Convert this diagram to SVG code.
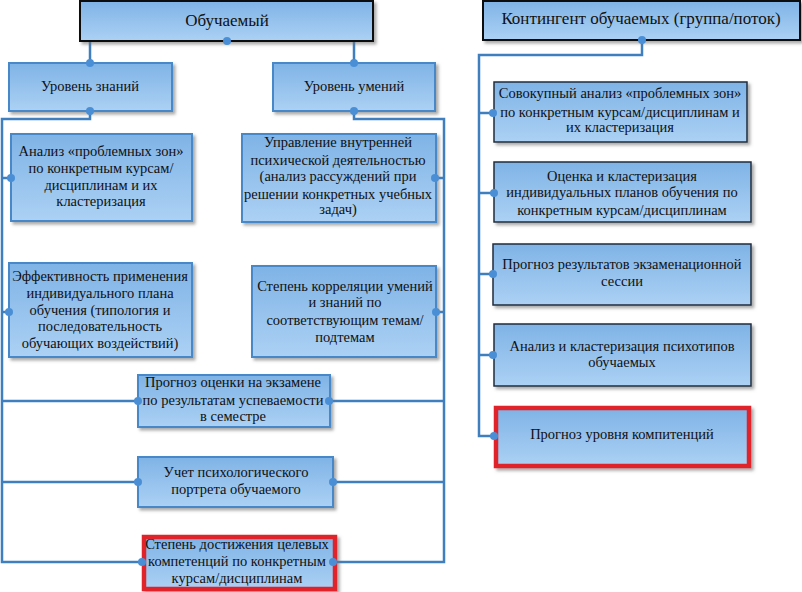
<svg xmlns="http://www.w3.org/2000/svg" width="802" height="592" viewBox="0 0 802 592">
<defs>
<linearGradient id="g" x1="0" y1="0" x2="0" y2="1">
<stop offset="0" stop-color="#7fb3e6"/>
<stop offset="1" stop-color="#acd1f4"/>
</linearGradient>
<filter id="sh" x="-10%" y="-10%" width="125%" height="130%">
<feDropShadow dx="2.5" dy="2.5" stdDeviation="1.5" flood-color="#707070" flood-opacity="0.6"/>
</filter>
</defs>
<style>
.b{fill:url(#g);filter:url(#sh)}
.lb{stroke:#4a88c8;stroke-width:2}
.db{stroke:#1f2d3d;stroke-width:1.5}
.kb{stroke:#111;stroke-width:2}
.rb{stroke:#e0202c;stroke-width:4.5}
text{font-size:14.5px;fill:#111;text-anchor:middle}
.t{font-size:17px}
.c{fill:none;stroke:#3f7fbf;stroke-width:2.5}
.d{fill:#4a8fd6}
</style>
<rect width="802" height="592" fill="#fff"/>
<g id="connectors">
<path class="c" d="M90 41V63M354 41V63"/>
<path class="c" d="M90 111V119H2V562H143M2 178H11M2 312H9M2 401H138M2 482H138"/>
<path class="c" d="M354 111V119H444V562H336M444 178H435M444 312H436M444 401H330M444 482H333"/>
<path class="c" d="M642 40V55H479V436H494M479 113H493M479 193H494M479 274H493M479 355H493"/>
</g>
<g font-family="'Liberation Serif', 'Times New Roman', serif">
<g id="obuchaemyi"><rect class="b kb" x="80" y="1" width="293" height="40"/><text class="t" x="227" y="26">Обучаемый</text></g>
<g id="uroven-znaniy"><rect class="b lb" x="9" y="63" width="163" height="48"/><text x="90" y="91">Уровень знаний</text></g>
<g id="uroven-umeniy"><rect class="b lb" x="273" y="63" width="162" height="48"/><text x="354" y="91">Уровень умений</text></g>
<g id="analiz-zon"><rect class="b lb" x="11" y="134" width="181" height="87"/><text x="101" y="156">Анализ «проблемных зон»</text><text x="101" y="173">по конкретным курсам/</text><text x="101" y="190">дисциплинам и их</text><text x="101" y="206">кластеризация</text></g>
<g id="effektivnost"><rect class="b lb" x="9" y="263" width="183" height="94"/><text x="100" y="281">Эффективность применения</text><text x="100" y="298">индивидуального плана</text><text x="100" y="315">обучения (типология и</text><text x="100" y="331">последовательность</text><text x="100" y="348">обучающих воздействий)</text></g>
<g id="upravlenie"><rect class="b lb" x="242" y="134" width="194" height="88"/><text x="338" y="147">Управление внутренней</text><text x="338" y="165">психической деятельностью</text><text x="338" y="181">(анализ рассуждений при</text><text x="338" y="199">решении конкретных учебных</text><text x="338" y="214">задач)</text></g>
<g id="korrelyatsiya"><rect class="b lb" x="252" y="266" width="184" height="91"/><text x="345" y="291">Степень корреляции умений</text><text x="345" y="307">и знаний по</text><text x="345" y="325">соответствующим темам/</text><text x="345" y="342">подтемам</text></g>
<g id="prognoz-otsenki"><rect class="b lb" x="138" y="375" width="192" height="52"/><text x="233" y="387">Прогноз оценки на экзамене</text><text x="233" y="405">по результатам успеваемости</text><text x="233" y="421">в семестре</text></g>
<g id="uchet"><rect class="b lb" x="138" y="457" width="195" height="50"/><text x="236" y="477">Учет психологического</text><text x="236" y="494">портрета обучаемого</text></g>
<g id="stepen-dostizheniya"><rect class="b rb" x="144" y="537" width="191" height="52"/><text x="237" y="549">Степень достижения целевых</text><text x="237" y="566">компетенций по конкретным</text><text x="237" y="583">курсам/дисциплинам</text></g>
<g id="kontingent"><rect class="b kb" x="483" y="1" width="317" height="39"/><text class="t" x="641" y="24">Контингент обучаемых (группа/поток)</text></g>
<g id="sovokupnyi"><rect class="b db" x="494" y="82" width="253" height="60"/><text x="620" y="98">Совокупный анализ «проблемных зон»</text><text x="620" y="117">по конкретным курсам/дисциплинам и</text><text x="620" y="132">их кластеризация</text></g>
<g id="otsenka"><rect class="b db" x="494" y="162" width="257" height="60"/><text x="622" y="181">Оценка и кластеризация</text><text x="622" y="197">индивидуальных планов обучения по</text><text x="622" y="215">конкретным курсам/дисциплинам</text></g>
<g id="prognoz-sessii"><rect class="b db" x="493" y="244" width="258" height="61"/><text x="622" y="269">Прогноз результатов экзаменационной</text><text x="622" y="286">сессии</text></g>
<g id="psihotipy"><rect class="b db" x="494" y="324" width="257" height="62"/><text x="622" y="351">Анализ и кластеризация психотипов</text><text x="622" y="367">обучаемых</text></g>
<g id="prognoz-kompetentsiy"><rect class="b rb" x="496" y="408" width="253" height="58"/><text x="622" y="439">Прогноз уровня компитенций</text></g>
</g>
<g id="dots">
<circle class="d" cx="227" cy="41" r="4"/><circle class="d" cx="90" cy="63" r="4"/><circle class="d" cx="354" cy="63" r="4"/>
<circle class="d" cx="90" cy="111" r="4"/><circle class="d" cx="354" cy="111" r="4"/>
<circle class="d" cx="11" cy="178" r="4"/><circle class="d" cx="9" cy="312" r="4"/><circle class="d" cx="435" cy="178" r="4"/><circle class="d" cx="436" cy="312" r="4"/>
<circle class="d" cx="138" cy="401" r="4"/><circle class="d" cx="329" cy="401" r="4"/><circle class="d" cx="138" cy="482" r="4"/><circle class="d" cx="333" cy="482" r="4"/>
<circle class="d" cx="142" cy="562" r="4"/><circle class="d" cx="333" cy="562" r="4"/>
<circle class="d" cx="642" cy="40" r="4"/><circle class="d" cx="493" cy="113" r="4"/><circle class="d" cx="494" cy="193" r="4"/><circle class="d" cx="493" cy="274" r="4"/><circle class="d" cx="493" cy="355" r="4"/><circle class="d" cx="494" cy="436" r="4"/>
</g>
</svg>
